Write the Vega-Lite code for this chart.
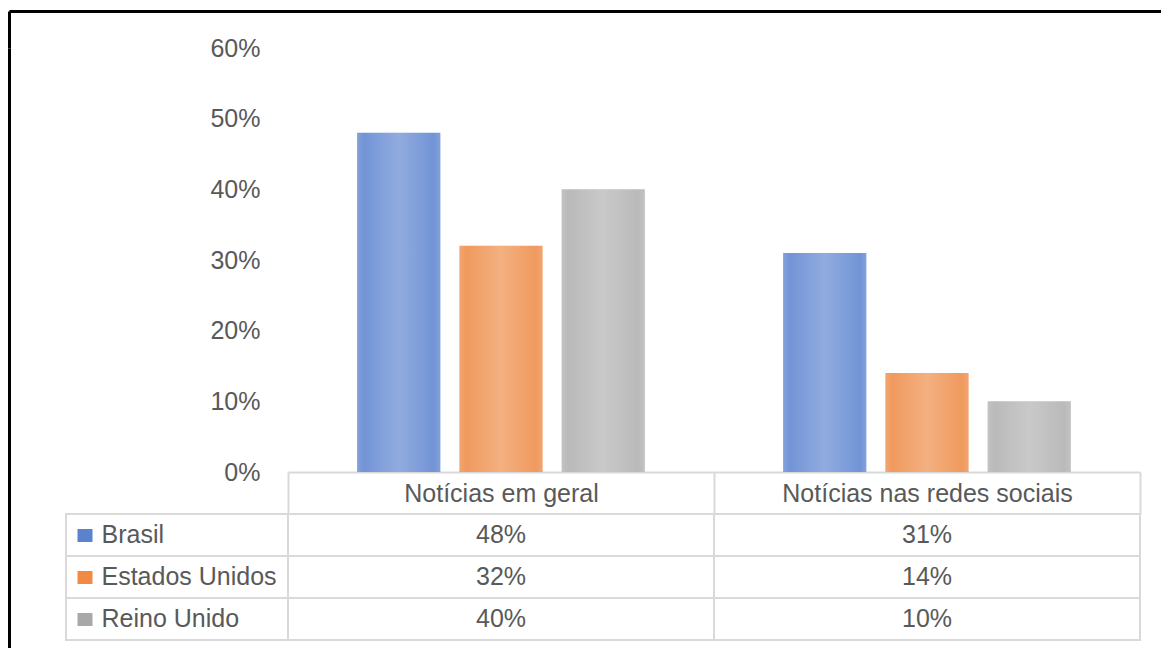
{
  "$schema": "https://vega.github.io/schema/vega-lite/v6.json",
  "padding": {"left": 9, "top": 11, "right": 0, "bottom": 0},
  "background": "white",
  "spacing": 0,
  "bounds": "flush",
  "resolve": {"scale": {"x": "independent", "y": "independent"}},
  "datasets": {
    "shares": [
      {"category": "Notícias em geral", "country": "Brasil", "value": 0.48},
      {"category": "Notícias em geral", "country": "Estados Unidos", "value": 0.32},
      {"category": "Notícias em geral", "country": "Reino Unido", "value": 0.40},
      {"category": "Notícias nas redes sociais", "country": "Brasil", "value": 0.31},
      {"category": "Notícias nas redes sociais", "country": "Estados Unidos", "value": 0.14},
      {"category": "Notícias nas redes sociais", "country": "Reino Unido", "value": 0.10}
    ],
    "series": [
      {"country": "Brasil"},
      {"country": "Estados Unidos"},
      {"country": "Reino Unido"}
    ]
  },
  "vconcat": [
    {
      "width": 1152,
      "height": 37,
      "data": {"values": []},
      "mark": "point",
      "encoding": {
        "x": {"field": "fx", "type": "quantitative", "scale": {"domain": [0, 1]},
              "axis": {"orient": "top", "title": null, "labels": false, "ticks": false, "grid": false, "domainColor": "#000000", "domainWidth": 3}},
        "y": {"field": "fy", "type": "quantitative", "scale": {"domain": [0, 1]},
              "axis": {"orient": "left", "title": null, "labels": false, "ticks": false, "grid": false, "domainColor": "#000000", "domainWidth": 3}}
      }
    },
    {
      "hconcat": [
        {
          "width": 57,
          "height": 600,
          "data": {"values": []},
          "mark": "point",
          "encoding": {
            "y": {"field": "fy", "type": "quantitative", "scale": {"domain": [0, 1]},
                  "axis": {"orient": "left", "title": null, "labels": false, "ticks": false, "grid": false, "domainColor": "#000000", "domainWidth": 3}}
          }
        },
        {
          "columns": 2,
          "spacing": {"row": 42, "column": 0},
          "bounds": "flush",
          "align": "each",
          "resolve": {"scale": {"x": "independent", "y": "independent"}},
          "concat": [
            {
              "width": 222,
              "height": 424,
              "data": {"values": []},
              "mark": "point"
            },
            {
              "width": 852,
              "height": 424,
              "data": {"name": "shares"},
              "encoding": {
                "x": {
                  "field": "category", "type": "nominal", "sort": null,
                  "scale": {"paddingInner": 0, "paddingOuter": 0},
                  "axis": {
                    "title": null, "orient": "bottom", "grid": false,
                    "domainColor": "#d9d9d9", "domainWidth": 2,
                    "tickBand": "extent", "tickSize": 42, "tickColor": "#d9d9d9", "tickWidth": 2,
                    "labelAngle": 0, "labelPadding": -21, "labelBaseline": "middle",
                    "labelFontSize": 25, "labelColor": "#595959", "labelLimit": 0
                  }
                },
                "xOffset": {
                  "field": "country", "type": "nominal", "sort": null,
                  "scale": {"paddingInner": 0.186, "paddingOuter": 0.676}
                },
                "y": {
                  "field": "value", "type": "quantitative",
                  "scale": {"domain": [0, 0.6], "nice": false},
                  "axis": {
                    "title": null, "values": [0, 0.1, 0.2, 0.3, 0.4, 0.5, 0.6], "format": ".0%",
                    "domain": false, "ticks": false, "tickSize": 0, "grid": false,
                    "labelPadding": 28, "labelFontSize": 25, "labelColor": "#595959"
                  }
                }
              },
              "layer": [
                {
                  "mark": {"type": "bar"},
                  "encoding": {
                    "color": {
                      "field": "country", "type": "nominal",
                      "scale": {"domain": ["Brasil", "Estados Unidos", "Reino Unido"], "range": ["#7294d6", "#f09a5e", "#bababa"]},
                      "legend": null
                    }
                  }
                },
                {
                  "mark": {
                    "type": "bar",
                    "fill": {
                      "gradient": "linear", "x1": 0, "y1": 0, "x2": 1, "y2": 0,
                      "stops": [
                        {"offset": 0, "color": "rgba(255,255,255,0.12)"},
                        {"offset": 0.08, "color": "rgba(255,255,255,0.0)"},
                        {"offset": 0.5, "color": "rgba(255,255,255,0.22)"},
                        {"offset": 0.92, "color": "rgba(255,255,255,0.0)"},
                        {"offset": 1, "color": "rgba(255,255,255,0.12)"}
                      ]
                    }
                  }
                }
              ]
            },
            {
              "width": 222,
              "height": 126,
              "data": {"name": "series"},
              "mark": {"type": "rect", "filled": false, "stroke": "#d9d9d9", "strokeWidth": 2},
              "encoding": {
                "y": {
                  "field": "country", "type": "nominal", "sort": null,
                  "scale": {"paddingInner": 0, "paddingOuter": 0},
                  "axis": {
                    "title": null, "orient": "left", "offset": -26, "domain": false, "grid": false,
                    "tickSize": 15, "tickWidth": 13, "tickCap": "butt",
                    "tickColor": {
                      "condition": [
                        {"test": "datum.value === 'Brasil'", "value": "#5a82cf"},
                        {"test": "datum.value === 'Estados Unidos'", "value": "#f08a45"}
                      ],
                      "value": "#a8a8a8"
                    },
                    "labelAlign": "left", "labelPadding": -24, "labelBaseline": "middle",
                    "labelFontSize": 25, "labelColor": "#595959", "labelLimit": 0, "zindex": 1
                  }
                }
              }
            },
            {
              "width": 852,
              "height": 126,
              "data": {"name": "shares"},
              "encoding": {
                "x": {"field": "category", "type": "nominal", "sort": null, "scale": {"paddingInner": 0, "paddingOuter": 0}, "axis": null},
                "y": {"field": "country", "type": "nominal", "sort": null, "scale": {"paddingInner": 0, "paddingOuter": 0}, "axis": null}
              },
              "layer": [
                {"mark": {"type": "rect", "filled": false, "stroke": "#d9d9d9", "strokeWidth": 2}},
                {
                  "mark": {"type": "text", "fontSize": 25, "color": "#595959", "baseline": "middle"},
                  "encoding": {"text": {"field": "value", "type": "quantitative", "format": ".0%"}}
                }
              ]
            }
          ]
        }
      ],
      "spacing": 0,
      "bounds": "flush",
      "resolve": {"scale": {"x": "independent", "y": "independent"}}
    }
  ],
  "config": {
    "font": "Liberation Sans",
    "view": {"stroke": null},
    "axis": {"labelFont": "Liberation Sans"},
    "text": {"font": "Liberation Sans"}
  }
}
